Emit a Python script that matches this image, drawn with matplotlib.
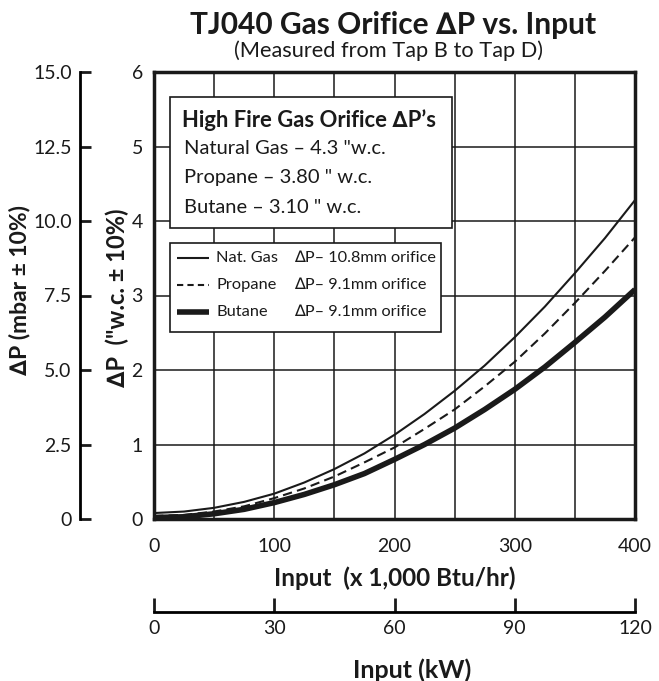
"""
TJ040 gas orifice pressure drop vs. input chart.
"""
import matplotlib
matplotlib.use('Agg')
import matplotlib.pyplot as plt
import matplotlib.patches as mpatches
from matplotlib.lines import Line2D

plt.rcParams['font.family'] = ['Lato', 'DejaVu Sans']

# ── Data ──────────────────────────────────────────────────────────────────────
# input in 1,000 Btu/hr, delta P in "w.c.
inputs   = [0, 25, 50, 75, 100, 125, 150, 175, 200, 225, 250, 275, 300, 325, 350, 375, 400]
nat_gas  = [0.08, 0.10, 0.15, 0.23, 0.34, 0.49, 0.67, 0.88, 1.13, 1.41, 1.72, 2.06, 2.44, 2.85, 3.30, 3.77, 4.28]
propane  = [0.04, 0.055, 0.10, 0.17, 0.28, 0.41, 0.57, 0.76, 0.96, 1.21, 1.47, 1.78, 2.11, 2.49, 2.90, 3.33, 3.78]
butane   = [0.02, 0.03, 0.07, 0.13, 0.22, 0.33, 0.46, 0.61, 0.80, 1.00, 1.22, 1.47, 1.74, 2.04, 2.37, 2.71, 3.08]

x_ticks      = [0, 100, 200, 300, 400]
y_ticks      = [0, 1, 2, 3, 4, 5, 6]
mbar_ticks   = [0, 2.5, 5.0, 7.5, 10.0, 12.5, 15.0]
mbar_labels  = ['0', '2.5', '5.0', '7.5', '10.0', '12.5', '15.0']
kw_ticks     = [0, 30, 60, 90, 120]

info_title = 'High Fire Gas Orifice ∆P’s'
info_lines = ['Natural Gas – 4.3 "w.c.',
              'Propane – 3.80 " w.c.',
              'Butane – 3.10 " w.c.']
leg_names  = ['Nat. Gas', 'Propane', 'Butane']
leg_desc   = ['∆P– 10.8mm orifice', '∆P– 9.1mm orifice', '∆P– 9.1mm orifice']

W, H = 659, 681
INK = '#1a1a1a'


def fx(px):
    return px / W


def fy(py):
    return 1 - py / H


# ── Figure ────────────────────────────────────────────────────────────────────
fig = plt.figure(figsize=(W / 100, H / 100), dpi=100)
fig.patch.set_facecolor('white')

ax_l, ax_r, ax_t, ax_b = 154, 635, 72, 519
ax = fig.add_axes([fx(ax_l), fy(ax_b), (ax_r - ax_l) / W, (ax_b - ax_t) / H])

ax.plot(inputs, nat_gas, color=INK, lw=1.5, zorder=3)
ax.plot(inputs, propane, color=INK, lw=1.5, ls=(0, (4.5, 2.5)), zorder=3)
ax.plot(inputs, butane, color=INK, lw=4.0, zorder=3, solid_capstyle='butt')

ax.set_xlim(0, 400)
ax.set_ylim(0, 6)
ax.set_xticks(x_ticks)
ax.set_xticks([50, 150, 250, 350], minor=True)
ax.set_yticks(y_ticks)
ax.grid(which='both', color=INK, lw=1.1, zorder=1)
ax.tick_params(which='both', length=0, labelsize=14, colors=INK)
ax.tick_params(axis='x', pad=14)
ax.tick_params(axis='y', pad=8)
for sp in ax.spines.values():
    sp.set_linewidth(2.5)
    sp.set_color(INK)
ax.set_axisbelow(True)

fig.text(fx(395), fy(578), 'Input  (x 1,000 Btu/hr)', ha='center',
         va='center', fontsize=17.5, fontweight='bold', color=INK)
fig.text(fx(117), fy(298), '∆P  ("w.c. ± 10%)', ha='center', va='center',
         rotation=90, fontsize=17, fontweight='bold', color=INK)

# ── mbar axis on the far left ─────────────────────────────────────────────────
ax_mb = fig.add_axes([fx(80), fy(ax_b), 0.0001, (ax_b - ax_t) / H])
ax_mb.set_ylim(0, 15)
ax_mb.set_yticks(mbar_ticks)
ax_mb.set_yticklabels(mbar_labels)
ax_mb.set_xticks([])
for k in ('top', 'right', 'bottom'):
    ax_mb.spines[k].set_visible(False)
ax_mb.spines['left'].set_linewidth(2)
ax_mb.tick_params(axis='y', direction='in', length=8, width=2,
                  labelsize=14, colors=INK, pad=6)
ax_mb.patch.set_visible(False)
fig.text(fx(20), fy(290), '∆P (mbar ± 10%)', ha='center', va='center',
         rotation=90, fontsize=16.5, fontweight='bold', color=INK)

# ── kW axis below ─────────────────────────────────────────────────────────────
ax_kw = fig.add_axes([fx(ax_l), fy(612), (ax_r - ax_l) / W, 0.0001])
ax_kw.set_xlim(0, 120)
ax_kw.set_xticks(kw_ticks)
ax_kw.set_yticks([])
for k in ('top', 'right', 'left'):
    ax_kw.spines[k].set_visible(False)
ax_kw.spines['bottom'].set_linewidth(2)
ax_kw.tick_params(axis='x', direction='in', length=10, width=2,
                  labelsize=14, colors=INK, pad=6)
ax_kw.patch.set_visible(False)
fig.text(fx(412), fy(670), 'Input (kW)', ha='center', va='center',
         fontsize=18, fontweight='bold', color=INK)

# ── Title ─────────────────────────────────────────────────────────────────────
fig.text(fx(393), fy(25), 'TJ040 Gas Orifice ∆P vs. Input', ha='center',
         va='center', fontsize=21.5, fontweight='bold', color=INK)
fig.text(fx(388), fy(51), '(Measured from Tap B to Tap D)', ha='center',
         va='center', fontsize=15.7, color=INK)

# ── Info box ──────────────────────────────────────────────────────────────────
fig.patches.append(mpatches.Rectangle((fx(170), fy(228)), (452 - 170) / W,
                                      (228 - 97) / H, transform=fig.transFigure,
                                      facecolor='white', edgecolor=INK,
                                      lw=1.2, zorder=5))
fig.text(fx(182), fy(120), info_title, ha='left', va='center', fontsize=15.8,
         fontweight='bold', color=INK, zorder=6)
for i, line in enumerate(info_lines):
    fig.text(fx(184), fy(148 + 30 * i), line, ha='left', va='center',
             fontsize=14.5, color=INK, zorder=6)

# ── Legend box ────────────────────────────────────────────────────────────────
fig.patches.append(mpatches.Rectangle((fx(170), fy(332)), (441 - 170) / W,
                                      (332 - 243) / H, transform=fig.transFigure,
                                      facecolor='white', edgecolor=INK,
                                      lw=1.2, zorder=5))
leg_styles = [dict(lw=1.5, ls='-'), dict(lw=1.5, ls=(0, (3, 2))),
              dict(lw=4.0, ls='-')]
for i, (name, desc, st) in enumerate(zip(leg_names, leg_desc, leg_styles)):
    yy = 258 + 27 * i
    fig.lines.append(Line2D([fx(177), fx(209)], [fy(yy), fy(yy)],
                            transform=fig.transFigure, color=INK,
                            zorder=6, solid_capstyle='butt', **st))
    fig.text(fx(216), fy(yy), name, ha='left', va='center', fontsize=11.8,
             color=INK, zorder=6)
    fig.text(fx(294), fy(yy), desc, ha='left', va='center', fontsize=11.7,
             color=INK, zorder=6)

fig.savefig('out.png', dpi=100, facecolor='white')
